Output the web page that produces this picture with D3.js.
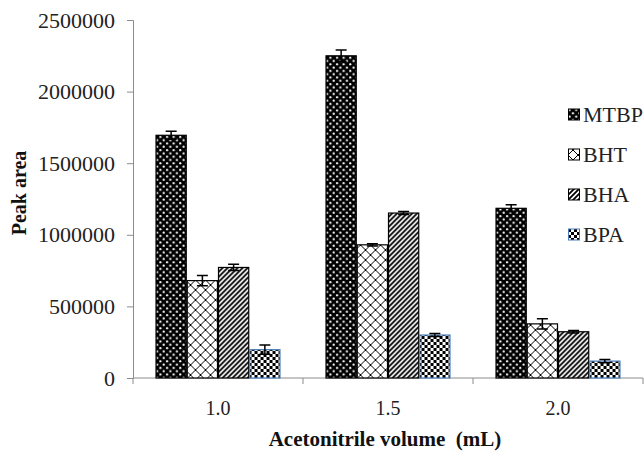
<!DOCTYPE html>
<html><head><meta charset="utf-8">
<script src="https://cdn.jsdelivr.net/npm/d3@7"></script>
<style>body{margin:0;background:#fff}svg{display:block}
svg text{font-family:"Liberation Serif","DejaVu Serif",serif;}
</style>
</head><body>
<svg id="c" width="644" height="452"></svg>
<script>
const categories = ["1.0", "1.5", "2.0"];
const seriesNames = ["MTBP", "BHT", "BHA", "BPA"];
const MTBP = [1695000, 2250000, 1185000];
const BHT = [680000, 930000, 378000];
const BHA = [772000, 1152000, 323000];
const BPA = [198000, 300000, 118000];
const MTBP_err = [28000, 40000, 24000];
const BHT_err = [35000, 8000, 35000];
const BHA_err = [22000, 10000, 8000];
const BPA_err = [32000, 10000, 12000];
const yTicks = [0, 500000, 1000000, 1500000, 2000000, 2500000];

const values = {MTBP, BHT, BHA, BPA};
const errs = {MTBP: MTBP_err, BHT: BHT_err, BHA: BHA_err, BPA: BPA_err};

const svg = d3.select("#c");
const pLeft = 133, pRight = 643, pTop = 20, pBottom = 378;

const defs = svg.append("defs");
const p1 = defs.append("pattern").attr("id","pMTBP").attr("patternUnits","userSpaceOnUse").attr("width",6.6).attr("height",6.6);
p1.append("rect").attr("width",6.6).attr("height",6.6).attr("fill","#000");
p1.append("circle").attr("cx",1.6).attr("cy",1.6).attr("r",1.1).attr("fill","#fff");
p1.append("circle").attr("cx",4.9).attr("cy",4.9).attr("r",1.1).attr("fill","#fff");
const p2 = defs.append("pattern").attr("id","pBHT").attr("patternUnits","userSpaceOnUse").attr("width",10).attr("height",10);
p2.append("rect").attr("width",10).attr("height",10).attr("fill","#fff");
p2.append("path").attr("d","M0,0L10,10M10,0L0,10M-1,9L1,11M9,-1L11,1M-1,1L1,-1M9,11L11,9").attr("stroke","#000").attr("stroke-width",1);
const p3 = defs.append("pattern").attr("id","pBHA").attr("patternUnits","userSpaceOnUse").attr("width",5).attr("height",5);
p3.append("rect").attr("width",5).attr("height",5).attr("fill","#fff");
p3.append("path").attr("d","M-1,6L6,-1M-1,1L1,-1M4,6L6,4").attr("stroke","#000").attr("stroke-width",1.8);
const p4 = defs.append("pattern").attr("id","pBPA").attr("patternUnits","userSpaceOnUse").attr("width",6).attr("height",6);
p4.append("rect").attr("width",6).attr("height",6).attr("fill","#fff");
p4.append("rect").attr("x",0).attr("y",0).attr("width",3).attr("height",3).attr("fill","#000");
p4.append("rect").attr("x",3).attr("y",3).attr("width",3).attr("height",3).attr("fill","#000");

const fills = {MTBP:"url(#pMTBP)", BHT:"url(#pBHT)", BHA:"url(#pBHA)", BPA:"url(#pBPA)"};
const strokes = {MTBP:"#000", BHT:"#000", BHA:"#000", BPA:"#4a7ebb"};

const x0 = d3.scaleBand().domain(categories).range([pLeft, pRight]).paddingInner(0.265).paddingOuter(0.1325);
const x1 = d3.scaleBand().domain(seriesNames).range([0, x0.bandwidth()]).padding(0);
const y = d3.scaleLinear().domain([0, 2500000]).range([pBottom, pTop]);

const yAxis = svg.append("g").attr("transform",`translate(${pLeft},0)`)
  .call(d3.axisLeft(y).tickValues(yTicks).tickFormat(d3.format("d")).tickSize(6).tickPadding(12));
yAxis.attr("font-family",null);
yAxis.select(".domain").attr("stroke","#8c8c8c");
yAxis.selectAll(".tick line").attr("stroke","#8c8c8c");
yAxis.selectAll("text").attr("font-size",22).attr("fill","#222");

const xAxisG = svg.append("g").attr("transform",`translate(0,${pBottom})`);
xAxisG.append("line").attr("x1",pLeft).attr("x2",pRight).attr("stroke","#8c8c8c");
const step = x0.step();
const bounds = [pLeft].concat(categories.map((c,i) => pLeft + (i+1)*step));
xAxisG.selectAll("line.t").data(bounds).join("line").attr("class","t")
  .attr("x1",d=>d).attr("x2",d=>d).attr("y1",0).attr("y2",6).attr("stroke","#8c8c8c");
xAxisG.selectAll("text").data(categories).join("text")
  .attr("x",d=>x0(d)+x0.bandwidth()/2).attr("y",37)
  .attr("text-anchor","middle").attr("font-size",20).attr("fill","#222").text(d=>d);

const groups = svg.append("g").selectAll("g").data(categories).join("g")
  .attr("transform",d=>`translate(${x0(d)},0)`);
groups.each(function(c, ci){
  const g = d3.select(this);
  seriesNames.forEach(s => {
    const v = values[s][ci];
    g.append("rect").attr("x",x1(s)+0.5).attr("y",y(v)).attr("width",x1.bandwidth()-1).attr("height",y(0)-y(v))
      .attr("fill",fills[s]).attr("stroke",strokes[s]).attr("stroke-width",1.2);
  });
  seriesNames.forEach(s => {
    const v = values[s][ci], e = errs[s][ci];
    const cx = x1(s)+x1.bandwidth()/2;
    g.append("path").attr("d",`M${cx},${y(v+e)}V${y(v-e)}M${cx-5.5},${y(v+e)}H${cx+5.5}M${cx-5.5},${y(v-e)}H${cx+5.5}`)
      .attr("stroke","#000").attr("stroke-width",1.5).attr("fill","none");
  });
});

const leg = svg.append("g").attr("transform","translate(568,115)");
seriesNames.forEach((s,i)=>{
  const gy = i*40;
  leg.append("rect").attr("x",0.5).attr("y",gy-6).attr("width",11).attr("height",11)
    .attr("fill",fills[s]).attr("stroke",strokes[s]).attr("stroke-width",1);
  leg.append("text").attr("x",15).attr("y",gy+7).attr("font-size",22).attr("fill","#222").text(s);
});

svg.append("text").attr("x",385).attr("y",446).attr("text-anchor","middle")
  .attr("font-weight","bold").attr("font-size",21).attr("fill","#111").text("Acetonitrile volume\u00a0\u00a0(mL)");
svg.append("text").attr("transform","translate(26,193) rotate(-90)").attr("text-anchor","middle")
  .attr("font-weight","bold").attr("font-size",20).attr("fill","#111").text("Peak area");
</script>
</body></html>
